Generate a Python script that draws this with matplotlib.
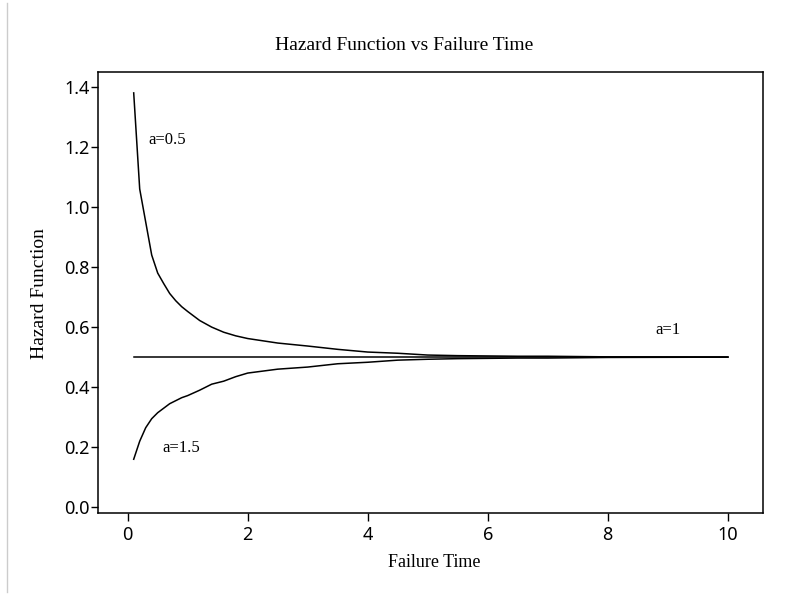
import matplotlib
matplotlib.use('Agg')
import matplotlib.pyplot as plt
from matplotlib.lines import Line2D

# values
time_pts = [0.1, 0.2, 0.3, 0.4, 0.5, 0.6, 0.7, 0.8, 0.9, 1.0,
            1.2, 1.4, 1.6, 1.8, 2.0, 2.5, 3.0, 3.5, 4.0, 4.5,
            5.0, 5.5, 6.0, 6.5, 7.0, 7.5, 8.0, 9.0, 10.0]
hazard_a05 = [1.38, 1.06, 0.95, 0.84, 0.78, 0.745, 0.712, 0.688, 0.668, 0.652,
              0.622, 0.6, 0.583, 0.571, 0.562, 0.547, 0.537, 0.526, 0.517, 0.513,
              0.507, 0.505, 0.504, 0.503, 0.503, 0.502, 0.501, 0.5005, 0.5]
hazard_a1 = [0.5] * len(time_pts)
hazard_a15 = [0.16, 0.22, 0.265, 0.295, 0.315, 0.33, 0.345, 0.355, 0.365, 0.372,
              0.39, 0.41, 0.42, 0.435, 0.447, 0.46, 0.467, 0.478, 0.483, 0.49,
              0.493, 0.495, 0.496, 0.497, 0.497, 0.498, 0.499, 0.4995, 0.5]

labels = ['a=0.5', 'a=1', 'a=1.5']
label_pos = [(0.34, 1.223), (8.8, 0.59), (0.58, 0.196)]

W, H = 791, 595
fig = plt.figure(figsize=(W / 100, H / 100), dpi=100)
ax = fig.add_axes([98.3 / W, 1 - 513.3 / H, 665 / W, 441 / H])

for ys in (hazard_a05, hazard_a1, hazard_a15):
    ax.plot(time_pts, ys, color='black', lw=1.1)

serif = 'Liberation Serif'
for txt, (x, y) in zip(labels, label_pos):
    ax.text(x, y, txt, family=serif, fontsize=12, ha='left', va='center')

ax.set_xlim(-0.49, 10.593)
ax.set_ylim(-0.02, 1.4486)
ax.set_xticks([0, 2, 4, 6, 8, 10])
ax.set_yticks([0.0, 0.2, 0.4, 0.6, 0.8, 1.0, 1.2, 1.4])
ax.set_yticklabels(['0.0', '0.2', '0.4', '0.6', '0.8', '1.0', '1.2', '1.4'])
ax.tick_params(axis='x', direction='out', length=6, width=1, pad=3,
               labelsize=13, labelfontfamily='Noto Sans')
ax.tick_params(axis='y', direction='out', length=5, width=1, pad=1,
               labelsize=13, labelfontfamily='Noto Sans')
for sp in ax.spines.values():
    sp.set_linewidth(1.1)

fig.text(404.6 / W, 1 - 45 / H, 'Hazard Function vs Failure Time',
         family=serif, fontsize=14, ha='center', va='center')
fig.text(434.6 / W, 1 - 562.7 / H, 'Failure Time',
         family=serif, fontsize=13, ha='center', va='center')
fig.text(40 / W, 1 - 294 / H, 'Hazard Function', rotation=90,
         family=serif, fontsize=14, ha='center', va='center')

# faint page edge on the left
fig.add_artist(Line2D([7.3 / W, 7.3 / W], [3 / H, 1 - 3 / H],
                      color='#cccccc', lw=1, transform=fig.transFigure))

fig.savefig('out.png', dpi=100)
